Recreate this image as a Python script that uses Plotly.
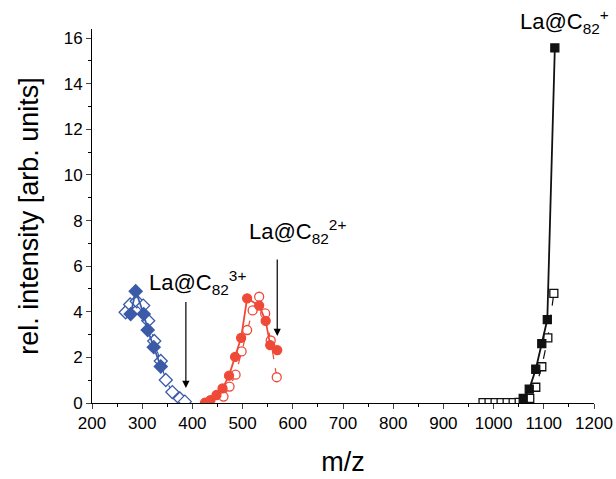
import plotly.graph_objects as go

# La@C82 3+ (blue)
blue_fill_x = [277, 287, 303, 311, 323, 337]
blue_fill_y = [3.9, 4.9, 3.9, 3.2, 2.45, 1.6]
blue_open_x = [267, 276, 289, 302, 312, 324, 337, 347, 360, 375, 385]
blue_open_y = [3.98, 4.32, 4.46, 4.27, 3.61, 2.72, 1.84, 1.01, 0.48, 0.2, 0.06]

# La@C82 2+ (red)
red_fill_x = [425, 436, 448, 460, 473, 485, 497, 509, 533, 546, 555, 569]
red_fill_y = [0.01, 0.13, 0.35, 0.64, 1.2, 2.02, 2.86, 4.59, 4.27, 3.6, 2.54, 2.32]
red_open_x = [462, 474, 486, 498, 509, 520, 533, 545, 556, 568]
red_open_y = [0.28, 0.72, 1.24, 2.26, 3.2, 4.06, 4.66, 3.93, 2.74, 1.13]

# La@C82 + (black)
blk_fill_x = [1059, 1071, 1084, 1096, 1107, 1122]
blk_fill_y = [0.2, 0.61, 1.48, 2.6, 3.66, 15.57]
blk_open_x = [979, 991, 1003, 1015, 1027, 1039, 1051, 1063, 1072, 1084, 1096, 1108, 1120]
blk_open_y = [0.02, 0.02, 0.02, 0.02, 0.02, 0.02, 0.03, 0.05, 0.2, 0.69, 1.59, 2.86, 4.81]

x_ticks = [200, 300, 400, 500, 600, 700, 800, 900, 1000, 1100, 1200]
y_ticks = [0, 2, 4, 6, 8, 10, 12, 14, 16]

BLUE = "#3b5ba9"
RED = "#ef4a37"
BLK = "#111111"
FONT = "Liberation Sans, Arial, sans-serif"

fig = go.Figure()

def add(x, y, color, symbol, filled, size, dash):
    fig.add_trace(go.Scatter(
        x=x, y=y, mode="lines+markers",
        line=dict(color=color, width=1.8 if filled else 1.2, dash=dash),
        marker=dict(symbol=symbol, size=size,
                    color=color if filled else "white",
                    line=dict(color=color, width=1.3)),
        showlegend=False))

add(blue_open_x, blue_open_y, BLUE, "diamond", False, 10, "dash")
add(blue_fill_x, blue_fill_y, BLUE, "diamond", True, 10, "solid")
add(red_open_x, red_open_y, RED, "circle", False, 9, "dash")
add(red_fill_x, red_fill_y, RED, "circle", True, 9, "solid")
add(blk_open_x, blk_open_y, BLK, "square", False, 8, "dash")
add(blk_fill_x, blk_fill_y, BLK, "square", True, 8, "solid")

ann_font = dict(family=FONT, size=22, color="black")
fig.add_annotation(x=310, y=5.3, text="La@C<sub>82</sub><sup>3+</sup>", showarrow=False,
                   xanchor="left", font=ann_font)
fig.add_annotation(x=508, y=7.5, text="La@C<sub>82</sub><sup>2+</sup>", showarrow=False,
                   xanchor="left", font=ann_font)
fig.add_annotation(x=1048, y=1.02, yref="paper", yanchor="middle",
                   text="La@C<sub>82</sub><sup>+</sup>",
                   showarrow=False, xanchor="left", font=ann_font)

for xa, y0, y1 in [(387, 4.5, 0.66), (569, 6.36, 2.94)]:
    fig.add_annotation(x=xa, y=y1, ax=xa, ay=y0, xref="x", yref="y",
                       axref="x", ayref="y", text="", showarrow=True,
                       arrowhead=2, arrowsize=1.2, arrowwidth=1.2, arrowcolor="black")

fig.update_layout(
    width=616, height=479,
    margin=dict(l=92, r=22, t=29, b=76),
    paper_bgcolor="white", plot_bgcolor="white",
    font=dict(family=FONT, color="black"),
    xaxis=dict(range=[200, 1200], tickvals=x_ticks, ticks="outside", ticklen=5,
               tickwidth=1, showgrid=False, zeroline=False, showline=True,
               linecolor="black", linewidth=1, tickfont=dict(size=17),
               automargin=False,
               minor=dict(ticks="outside", ticklen=3, dtick=50, tickcolor="black"),
               title=dict(text="m/z", font=dict(size=27), standoff=19)),
    yaxis=dict(range=[0, 16.4], tickvals=y_ticks, ticks="outside", ticklen=5,
               tickwidth=1, showgrid=False, zeroline=False, showline=True,
               linecolor="black", linewidth=1, tickfont=dict(size=17),
               automargin=False,
               minor=dict(ticks="outside", ticklen=3, dtick=1, tickcolor="black"),
               title=dict(text="rel. intensity [arb. units]", font=dict(size=27), standoff=17)),
)

fig.write_html("out.html", config={"displayModeBar": False},
               post_script="document.body.style.margin='0';document.body.style.padding='0';")
